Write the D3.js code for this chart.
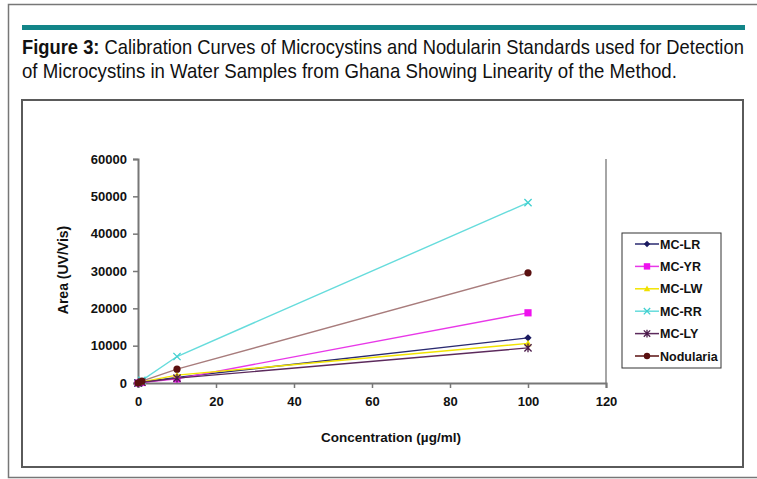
<!DOCTYPE html>
<html><head><meta charset="utf-8">
<script src="https://cdn.jsdelivr.net/npm/d3@7"></script>
<style>body{margin:0;background:#fff}svg{display:block}</style>
</head><body>
<svg id="c" width="757" height="479"></svg>
<script>
const concentrations = [0, 1, 10, 100];
const seriesNames = ["MC-LR", "MC-YR", "MC-LW", "MC-RR", "MC-LY", "Nodularia"];
const mcLR = [0, 250, 1500, 12100];
const mcYR = [0, 150, 1100, 18800];
const mcLW = [0, 300, 2100, 10600];
const mcRR = [0, 700, 7100, 48300];
const mcLY = [0, 200, 1300, 9400];
const nodularin = [0, 500, 3700, 29500];
const xTicks = [0, 20, 40, 60, 80, 100, 120];
const yTicks = [0, 10000, 20000, 30000, 40000, 50000, 60000];
const titleBold = "Figure 3:";
const titleLine1 = " Calibration Curves of Microcystins and Nodularin Standards used for Detection";
const titleLine2 = "of Microcystins in Water Samples from Ghana Showing Linearity of the Method.";
const xTitle = "Concentration (µg/ml)";
const yTitle = "Area (UV/Vis)";

const seriesValues = [mcLR, mcYR, mcLW, mcRR, mcLY, nodularin];
const lineColors = ["#2a2a70", "#e838e8", "#f2e400", "#66dcdc", "#5c2a5c", "#a87c7c"];
const markColors = ["#1a1a60", "#ee11ee", "#f0e000", "#40d0d0", "#4a1a4a", "#5a1010"];
const markers = ["diamond", "square", "triangle", "x", "star", "circle"];

const svg = d3.select("#c");
const font = "'Liberation Sans', Arial, sans-serif";

// frames
svg.append("rect").attr("x", 8.5).attr("y", 4.5).attr("width", 760).attr("height", 473)
  .attr("fill", "none").attr("stroke", "#777").attr("stroke-width", 1.5);
svg.append("rect").attr("x", 22).attr("y", 25).attr("width", 723).attr("height", 5).attr("fill", "#128588");
svg.append("rect").attr("x", 22).attr("y", 100).attr("width", 721).attr("height", 367)
  .attr("fill", "none").attr("stroke", "#5a5a5a").attr("stroke-width", 2);

// title (condensed to fit like the reference)
const t1 = svg.append("text").attr("font-family", font).attr("font-size", 20).attr("fill", "#111");
t1.append("tspan").attr("font-weight", "bold").text(titleBold);
t1.append("tspan").text(titleLine1);
const t2 = svg.append("text").attr("font-family", font).attr("font-size", 20).attr("fill", "#111").text(titleLine2);
const s1 = 722 / t1.node().getComputedTextLength();
const s2 = 655 / t2.node().getComputedTextLength();
t1.attr("transform", `translate(22,54) scale(${s1},1)`);
t2.attr("transform", `translate(22,78) scale(${s2},1)`);

// scales
const x = d3.scaleLinear().domain([0, 120]).range([138, 606]);
const y = d3.scaleLinear().domain([0, 60000]).range([383, 159]);

// plot right border
svg.append("line").attr("x1", 606).attr("x2", 606).attr("y1", 159).attr("y2", 383)
  .attr("stroke", "#888").attr("stroke-width", 1.5);

const xAxis = svg.append("g").attr("transform", "translate(0,383)")
  .call(d3.axisBottom(x).tickValues(xTicks).tickSize(5).tickPadding(9).tickFormat(d3.format("d")));
const yAxis = svg.append("g").attr("transform", "translate(138,0)")
  .call(d3.axisLeft(y).tickValues(yTicks).tickSize(5).tickPadding(6).tickFormat(d3.format("d")));
[xAxis, yAxis].forEach(g => {
  g.select(".domain").attr("stroke", "#777").attr("stroke-width", 2);
  g.selectAll(".tick line").attr("stroke", "#777").attr("stroke-width", 1.5);
  g.selectAll("text").attr("font-family", font).attr("font-size", 13)
    .attr("font-weight", "bold").attr("fill", "#111");
});

svg.append("text").attr("x", 391).attr("y", 442).attr("text-anchor", "middle")
  .attr("font-family", font).attr("font-size", 13.5).attr("font-weight", "bold").attr("fill", "#111").text(xTitle);
svg.append("text").attr("transform", "translate(68,270) rotate(-90)").attr("text-anchor", "middle")
  .attr("font-family", font).attr("font-size", 14).attr("font-weight", "bold").attr("fill", "#111").text(yTitle);

function drawMarker(g, type, cx, cy, color, s) {
  if (type === "diamond") {
    g.append("path").attr("d", `M${cx},${cy-s}L${cx+s},${cy}L${cx},${cy+s}L${cx-s},${cy}Z`).attr("fill", color);
  } else if (type === "square") {
    g.append("rect").attr("x", cx-s).attr("y", cy-s).attr("width", 2*s).attr("height", 2*s).attr("fill", color);
  } else if (type === "triangle") {
    g.append("path").attr("d", `M${cx},${cy-s}L${cx+s},${cy+s*0.8}L${cx-s},${cy+s*0.8}Z`).attr("fill", color);
  } else if (type === "x") {
    g.append("path").attr("d", `M${cx-s},${cy-s}L${cx+s},${cy+s}M${cx-s},${cy+s}L${cx+s},${cy-s}`)
      .attr("stroke", color).attr("stroke-width", 1.3);
  } else if (type === "star") {
    g.append("path").attr("d", `M${cx-s},${cy-s}L${cx+s},${cy+s}M${cx-s},${cy+s}L${cx+s},${cy-s}M${cx},${cy-s*1.2}L${cx},${cy+s*1.2}`)
      .attr("stroke", color).attr("stroke-width", 1.3);
  } else {
    g.append("circle").attr("cx", cx).attr("cy", cy).attr("r", s).attr("fill", color);
  }
}

const line = d3.line().x(d => x(d[0])).y(d => y(d[1]));
seriesValues.forEach((vals, i) => {
  const pts = concentrations.map((c, j) => [c, vals[j]]);
  const g = svg.append("g");
  g.append("path").attr("d", line(pts)).attr("fill", "none")
    .attr("stroke", lineColors[i]).attr("stroke-width", 1.4);
  pts.forEach(p => drawMarker(g, markers[i], x(p[0]), y(p[1]), markColors[i], 3.6));
});

// legend
const lg = svg.append("g");
lg.append("rect").attr("x", 622).attr("y", 233).attr("width", 99).attr("height", 135)
  .attr("fill", "#fff").attr("stroke", "#333").attr("stroke-width", 1);
const clip = svg.append("clipPath").attr("id", "lgclip");
clip.append("rect").attr("x", 622).attr("y", 233).attr("width", 98).attr("height", 135);
seriesNames.forEach((n, i) => {
  const ly = 244 + i * 22.4;
  lg.append("line").attr("x1", 635).attr("x2", 659).attr("y1", ly).attr("y2", ly)
    .attr("stroke", i === 5 ? "#5a1010" : lineColors[i]).attr("stroke-width", 1.5);
  drawMarker(lg, markers[i], 647, ly, markColors[i], 3.2);
  lg.append("text").attr("x", 660).attr("y", ly + 4.5).attr("font-family", font)
    .attr("clip-path", "url(#lgclip)")
    .attr("font-size", 12.5).attr("font-weight", "bold").attr("fill", "#111").text(n);
});
</script>
</body></html>
